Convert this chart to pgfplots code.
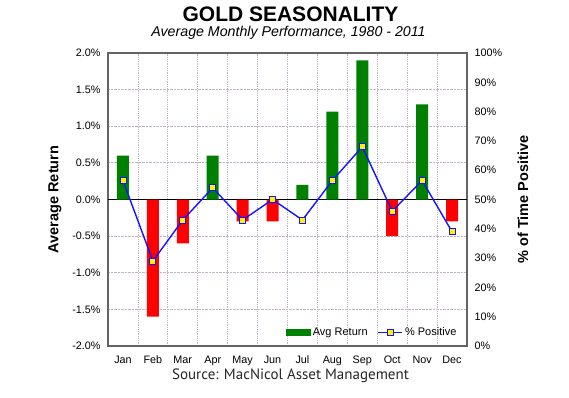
\documentclass[border=0pt]{standalone}
\usepackage{fontspec}
\setmainfont{Liberation Sans}
\newfontfamily\ptsans{PT Sans}
\usepackage{pgfplots}
\pgfplotsset{compat=1.18}
\definecolor{bargreen}{RGB}{0,128,0}
\definecolor{barred}{RGB}{255,0,0}
\definecolor{gridc}{RGB}{195,180,200}
\definecolor{linec}{RGB}{20,20,255}
\definecolor{framec}{RGB}{100,100,100}
\begin{document}
\begin{tikzpicture}
\path[use as bounding box] (-108pt,-51pt) rectangle (461pt,346pt);
\begin{axis}[
  at={(0pt,0pt)}, anchor=south west, scale only axis,
  width=359pt, height=293pt,
  xmin=0.5, xmax=12.5, ymin=-2, ymax=2,
  xtick={1,...,12},
  xticklabels={Jan,Feb,Mar,Apr,May,Jun,Jul,Aug,Sep,Oct,Nov,Dec},
  major x tick style={draw=none},
  minor xtick={1.5,2.5,...,11.5},
  minor x tick style={draw=none},
  xminorgrids,
  ytick={-2,-1.5,...,2},
  ymajorgrids,
  ytick style={draw=none},
  grid style={gridc, densely dotted, line width=0.8pt},
  minor grid style={gridc, densely dotted, line width=0.8pt},
  extra y ticks={0}, extra y tick labels={},
  extra y tick style={grid=major, major grid style={black, solid, line width=1pt}, tick style={draw=none}},
  /pgf/number format/assume math mode=true,
  yticklabel={\pgfmathprintnumber[fixed,fixed zerofill,precision=1]{\tick}\%},
  tick label style={font=\fontsize{10.8}{12}\selectfont},
  xticklabel style={yshift=-2pt},
  yticklabel style={xshift=-4pt},
  axis line style={framec, line width=1.2pt},
  ylabel={Average Return},
  ylabel style={font=\bfseries\fontsize{14.5}{16}\selectfont, at={(axis description cs:-0.148,0.5)}, anchor=center},
  ybar, bar width=12pt,
]
\addplot[fill=bargreen, draw=none, bar shift=0pt] coordinates {(1,0.6)(4,0.6)(7,0.2)(8,1.2)(9,1.9)(11,1.3)};
\addplot[fill=barred, draw=none, bar shift=0pt] coordinates {(2,-1.6)(3,-0.6)(5,-0.3)(6,-0.3)(10,-0.5)(12,-0.3)};
\end{axis}
\begin{axis}[
  at={(0pt,0pt)}, anchor=south west, scale only axis,
  width=359pt, height=293pt,
  xmin=0.5, xmax=12.5, ymin=0, ymax=100,
  axis x line=none, axis y line*=right,
  axis line style={draw=none},
  ytick={0,10,...,100},
  ytick style={draw=none},
  /pgf/number format/assume math mode=true,
  yticklabel={\pgfmathprintnumber{\tick}\%},
  tick label style={font=\fontsize{10.8}{12}\selectfont},
  yticklabel style={xshift=4pt},
  ylabel={\% of Time Positive},
  ylabel style={font=\bfseries\fontsize{14.5}{16}\selectfont, at={(axis description cs:1.156,0.5)}, anchor=center},
  legend style={at={(0.985,0.015)}, anchor=south east, draw=none, fill=none,
    legend columns=2, font=\fontsize{11}{12}\selectfont,
    /tikz/every even column/.append style={column sep=8pt}},
  legend image code/.code={\draw[#1] (0pt,0pt) -- (24pt,0pt); \draw[#1, only marks] plot coordinates {(12pt,0pt)};},
]
\addlegendimage{legend image code/.code={\fill[bargreen] (0pt,-3pt) rectangle (24pt,3pt);}}
\addlegendentry{Avg Return}
\addplot[linec, line width=1.4pt, mark=square*, mark size=3pt, mark options={fill=yellow, draw=linec, line width=0.9pt, solid}]
  coordinates {(1,56.5)(2,29)(3,43)(4,54)(5,43)(6,50)(7,43)(8,56.5)(9,68)(10,46)(11,56.5)(12,39)};
\addlegendentry{\% Positive}
\end{axis}
\node[font=\bfseries\fontsize{21}{24}\selectfont] at (182.5pt,332pt) {GOLD SEASONALITY};
\node[font=\itshape\fontsize{14.2}{16}\selectfont] at (180.5pt,313pt) {Average Monthly Performance, 1980 - 2011};
\node[font=\ptsans\fontsize{15}{17}\selectfont, text=black!85] at (182.5pt,-30pt) {Source: MacNicol Asset Management};
\end{tikzpicture}
\end{document}
